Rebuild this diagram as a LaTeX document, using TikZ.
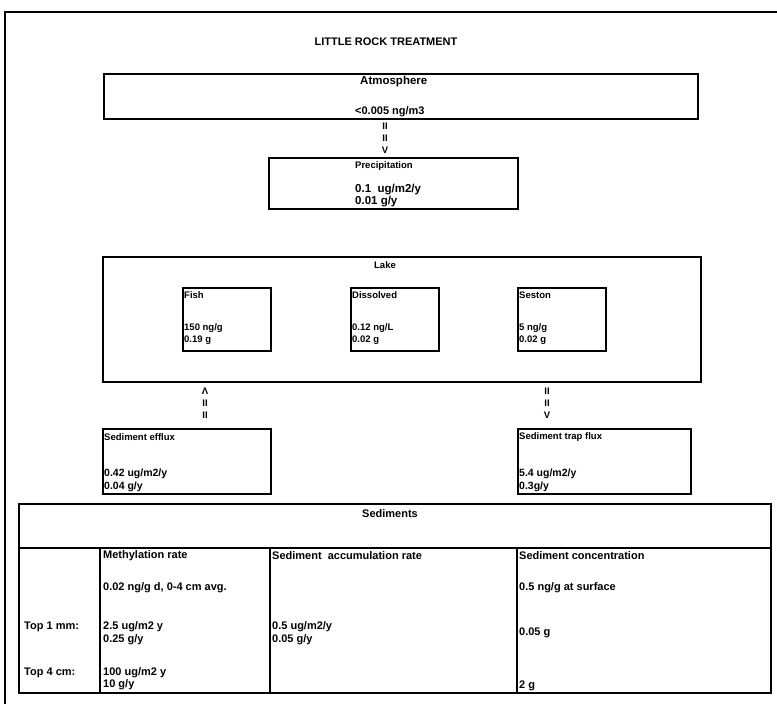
\documentclass[tikz,border=0pt]{standalone}
\usepackage{fontspec}
\setmainfont{Liberation Sans}
\usetikzlibrary{positioning}

\newcommand{\boxfont}{\fontsize{9.5}{11}\selectfont\bfseries}
\newcommand{\valfont}{\fontsize{10.5}{12}\selectfont\bfseries}
\newcommand{\bigboxfont}{\fontsize{11.5}{13}\selectfont\bfseries}
\newcommand{\tabfont}{\fontsize{11}{13}\selectfont\bfseries}

\begin{document}
\begin{tikzpicture}[x=1pt,y=-1pt,
  box/.style={draw,line width=1.5pt,inner sep=0pt,anchor=north west},
  txt/.style={inner sep=0pt,anchor=west,font=\boxfont},
  tab/.style={inner sep=0pt,anchor=west,font=\tabfont},
  flowsign/.style={inner sep=0pt,font=\boxfont}]
\useasboundingbox (0,0) rectangle (777,704);
% ---- frame and title ----
\draw[line width=1.3pt] (5,704) -- (5,12) -- (777,12);
\node[font=\fontsize{11}{13}\selectfont\bfseries] (title) at (386,42) {LITTLE ROCK TREATMENT};
% ---- atmosphere ----
\node[box,minimum width=594pt,minimum height=45pt] (atm) at (103,73) {};
\node[txt,font=\bigboxfont] (atmname) at (360,82) {Atmosphere};
\node[txt,font=\fontsize{11}{13}\selectfont\bfseries] (atmval) at (355,112) {<0.005 ng/m3};
\foreach \s [count=\i] in {II,II,V}
  \node[flowsign] (down\i) at (385,114+12*\i) {\s};
% ---- precipitation ----
\node[box,minimum width=249pt,minimum height=51pt] (prec) at (268,157) {};
\node[txt] (precname) at (355,166) {Precipitation};
\node[txt,font=\bigboxfont] (precval) at (355,190) {0.1~ ug/m2/y};
\node[txt,font=\bigboxfont] (precmass) at (355,202) {0.01 g/y};
% ---- lake ----
\node[box,minimum width=598pt,minimum height=125pt] (lake) at (102,256) {};
\node[txt,anchor=center] (lakename) at (385,265) {Lake};
\foreach \n/\x/\a/\b/\c in {fish/182/Fish/150 ng\slash g/0.19 g,
    diss/350/Dissolved/0.12 ng\slash L/0.02 g,
    seston/517/Seston/5 ng\slash g/0.02 g}{
  \node[box,minimum width=88pt,minimum height=63pt] (\n) at (\x,287) {};
  \node[txt] (\n name) at (\x+2,295) {\a};
  \node[txt] (\n val) at (\x+2,328) {\b};
  \node[txt] (\n mass) at (\x+2,340) {\c};
}
\foreach \s [count=\i] in {Λ,II,II}
  \node[flowsign] (up\i) at (205,379+12*\i) {\s};
\foreach \s [count=\i] in {II,II,V}
  \node[flowsign] (trap\i) at (547,379+12*\i) {\s};
% ---- fluxes ----
\node[box,minimum width=168pt,minimum height=65pt] (efflux) at (102,428) {};
\node[txt] (effluxname) at (104,437) {Sediment efflux};
\node[txt,font=\valfont] (effluxval) at (104,474) {0.42 ug/m2/y};
\node[txt,font=\valfont] (effluxmass) at (104,487) {0.04 g/y};
\node[box,minimum width=173pt,minimum height=65pt] (trap) at (517,428) {};
\node[txt] (trapname) at (519,437) {Sediment trap flux};
\node[txt,font=\valfont] (trapval) at (519,474) {5.4 ug/m2/y};
\node[txt,font=\valfont] (trapmass) at (519,487) {0.3g/y};
% ---- sediments table ----
\node[box,minimum width=752pt,minimum height=189pt] (sed) at (18,503) {};
\draw[line width=1.5pt] (18,548) -- (770,548);
\foreach \x in {100,270,517}
  \draw[line width=1.5pt] (\x,548) -- (\x,692);
\node[tab,anchor=center] (sedname) at (390,514) {Sediments};
\node[tab] (methname) at (103,556) {Methylation rate};
\node[tab] (accname) at (272,556) {Sediment~ accumulation rate};
\node[tab] (concname) at (519,556) {Sediment concentration};
\node[tab] (methavg) at (103,588) {0.02 ng/g d, 0-4 cm avg.};
\node[tab] (concsurf) at (519,588) {0.5 ng/g at surface};
\node[tab] (top1) at (24,627) {Top 1 mm:};
\node[tab] (meth1) at (103,627) {2.5 ug/m2 y};
\node[tab] (meth1g) at (103,640) {0.25 g/y};
\node[tab] (acc1) at (272,627) {0.5 ug/m2/y};
\node[tab] (acc1g) at (272,640) {0.05 g/y};
\node[tab] (conc1) at (519,633) {0.05 g};
\node[tab] (top4) at (24,673) {Top 4 cm:};
\node[tab] (meth4) at (103,673) {100 ug/m2 y};
\node[tab] (meth4g) at (103,685) {10 g/y};
\node[tab] (conc4) at (519,686) {2 g};
\end{tikzpicture}
\end{document}
